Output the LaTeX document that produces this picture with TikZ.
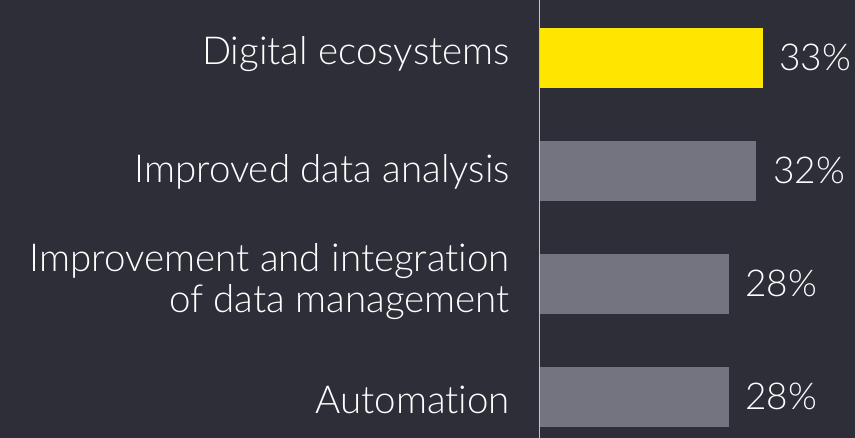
\documentclass[tikz,border=0pt]{standalone}
\usepackage{fontspec}
\setmainfont{Lato Light}[Ligatures=NoCommon]
\usetikzlibrary{positioning}
\definecolor{bgdark}{HTML}{2E2E38}
\definecolor{eyyellow}{HTML}{FFE600}
\definecolor{bargrey}{HTML}{747480}
\definecolor{axisgrey}{HTML}{C4C4CD}
\begin{document}
\begin{tikzpicture}[
			x=1pt, y=-1pt,
			bar/.style={fill=bargrey, draw=none},
			topbar/.style={fill=eyyellow, draw=none},
			label/.style={text=white, font=\fontsize{38.5}{41}\selectfont, inner sep=0pt, anchor=base east, align=right},
			pct/.style={text=white, font=\fontsize{37}{41}\selectfont, inner sep=0pt, anchor=base west}
		]
		\fill[bgdark] (0,0) rectangle (855,438);
		\useasboundingbox (0,0) rectangle (855,438);
		\coordinate (axtop) at (539.5,0);
		\coordinate (axbot) at (539.5,438);
		% bars
		\fill[topbar] (540,28) rectangle (763,88) coordinate (b1);
		\fill[bar] (540,141) rectangle (756,201) coordinate (b2);
		\fill[bar] (540,254) rectangle (729,314) coordinate (b3);
		\fill[bar] (540,367) rectangle (729,427) coordinate (b4);
		\draw[axisgrey, line width=1.2pt] (axtop) -- (axbot);
		% labels
		\node[label] (l1) at (510,65) {Digital ecosystems};
		\node[label] (l2) at (510,183) {Improved data analysis};
		\node[label] (l3) at (510,313) {Improvement and integration\\of data management};
		\node[label] (l4) at (510,414) {Automation};
		% values
		\node[pct] (p1) at (779,71) {33\%};
		\node[pct] (p2) at (773,184) {32\%};
		\node[pct] (p3) at (745,297) {28\%};
		\node[pct] (p4) at (745,410) {28\%};
	\end{tikzpicture}
\end{document}
